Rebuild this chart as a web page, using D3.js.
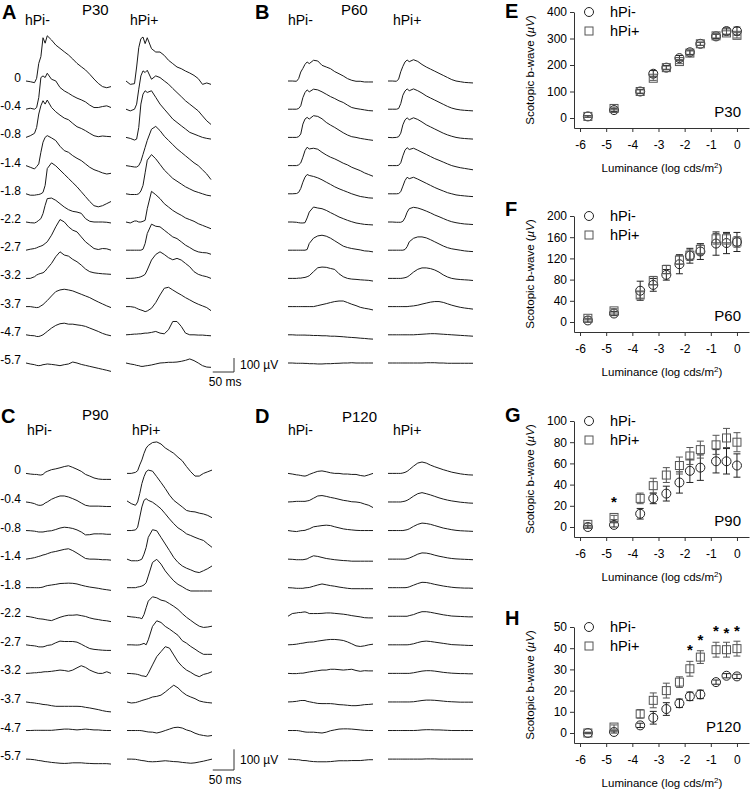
<!DOCTYPE html>
<html lang="en">
<head>
<meta charset="utf-8">
<title>ERG hPi</title>
<script src="https://d3js.org/d3.v7.min.js"></script>
<style>
body { margin:0; background:#fff; }
svg { font-family: "Liberation Sans", Arial, sans-serif; }
.trace { fill:none; stroke:#1a1a1a; stroke-width:1; stroke-linejoin:round; }
.letter { font-size:20px; font-weight:bold; }
.age { font-size:15px; }
.grp { font-size:14px; }
.lvl { font-size:12px; text-anchor:end; }
.bar { stroke:#333; stroke-width:1; fill:none; }
.axis text { font-size:12px; font-family:"Liberation Sans", Arial, sans-serif; fill:#000; }
.axis path, .axis line { stroke:#333; }
.atitle { font-size:11.5px; }
</style>
</head>
<body>
<svg id="fig" width="750" height="790"></svg>
<script>
// sample times (ms) of each trace
var T = [0,10,20,25,30,35,40,45,50,60,70,80,90,100,110,120,130,140,150,160,170,180,190,200];
var levels = ["0","-0.4","-0.8","-1.4","-1.8","-2.2","-2.7","-3.2","-3.7","-4.7","-5.7"];

// traces, uV, one row per flash level
var p30Minus = [
 [0,-5,-12,19,126,174,309,270,323,293,257,233,209,186,157,126,102,79,48,14,-17,-40,-48,-40],
 [0,7,0,12,83,226,238,226,257,214,202,155,131,114,95,79,67,52,29,12,12,19,24,12],
 [0,12,29,71,167,226,262,238,267,214,183,159,138,126,100,76,64,48,29,12,5,10,7,5],
 [0,-12,-24,-7,12,95,167,202,214,198,179,138,107,95,71,52,36,12,-12,-29,-40,-52,-60,-55],
 [0,-10,-10,-7,-5,0,10,60,180,221,200,170,140,110,80,50,15,-20,-55,-85,-93,-85,-70,-55],
 [0,-5,-7,0,12,24,60,119,167,171,155,131,107,88,76,71,62,24,5,0,0,0,-2,-7],
 [0,7,12,17,24,29,36,48,60,107,167,219,202,167,143,131,95,60,36,12,5,12,10,0],
 [0,0,12,24,31,36,40,52,71,107,155,190,167,159,136,119,95,67,48,40,36,33,31,29],
 [0,0,-5,-7,-5,5,14,29,43,76,107,119,124,119,112,100,88,76,64,48,33,19,5,-7],
 [0,-5,-7,-12,-12,-7,0,12,24,48,67,79,83,76,76,71,67,60,48,36,24,10,0,-7],
 [0,-7,-12,-17,-19,-17,-12,-10,-7,-10,-14,-19,-12,-7,7,0,-10,-17,-24,-31,-38,-45,-52,-60]
];
var p30Plus = [
 [0,-24,-19,100,238,302,314,267,309,231,207,207,183,148,124,100,88,71,57,40,17,-24,-14,-24],
 [0,-12,0,36,143,238,274,262,278,214,238,226,202,179,148,119,90,60,36,12,-12,-48,-83,-109],
 [0,-7,-19,-12,71,238,309,333,321,333,286,238,202,167,131,107,83,60,36,24,12,0,-7,-12],
 [0,-5,-10,-10,0,30,80,130,180,260,280,250,210,180,150,120,95,70,45,20,0,-30,-60,-100],
 [0,-5,-5,-5,0,20,60,150,240,280,250,210,170,140,110,90,70,50,35,20,10,0,-10,-15],
 [0,-7,7,7,0,0,5,12,95,219,195,167,131,107,83,64,48,29,17,5,-12,-24,-36,-48],
 [0,0,0,0,0,0,7,48,119,186,171,167,143,119,95,83,60,36,19,0,-12,-17,-19,-29],
 [0,0,2,5,7,12,19,29,60,131,171,190,171,148,133,143,131,107,83,48,29,19,12,0],
 [0,0,-5,-12,-19,-24,-29,-36,-31,-12,29,83,131,138,119,100,83,64,48,31,17,5,-7,-29],
 [0,2,5,5,7,7,10,12,12,17,24,12,7,36,95,95,60,12,0,0,-2,-2,-5,-7],
 [0,-7,-12,-17,-19,-24,-24,-21,-19,-14,-7,0,2,5,5,7,12,19,29,17,0,-19,-29,-31]
];
var p60Minus = [
 [0,0,-2,17,64,90,119,136,124,148,143,112,100,88,67,52,36,17,5,-2,-2,-7,-7,-7],
 [0,0,0,5,24,83,119,138,124,143,138,124,107,90,76,60,48,29,12,5,0,-5,-10,-12],
 [0,0,0,5,24,95,131,143,131,155,150,133,107,88,71,52,33,17,5,0,-7,-12,-17,-21],
 [0,0,0,5,19,60,107,131,119,124,117,95,76,60,48,33,17,5,-12,-24,-36,-52,-64,-76],
 [0,0,2,10,38,83,119,138,131,124,114,100,83,67,50,36,24,12,0,-10,-19,-24,-29,-31],
 [0,0,-2,-5,-7,-7,-5,29,71,107,100,95,83,67,52,36,24,12,2,-7,-12,-17,-19,-21],
 [0,0,0,0,0,0,0,5,48,86,102,107,100,86,67,48,29,19,12,7,2,-5,-7,-12],
 [0,0,0,2,2,5,7,12,19,48,76,81,79,71,64,33,12,0,-5,-7,-10,-12,-14,-19],
 [0,0,0,0,0,0,0,0,0,0,7,14,21,29,36,40,40,29,17,7,-5,-12,-17,-24],
 [0,0,-2,-2,-2,-2,-2,-3,-3,-5,-5,-7,-7,-10,-10,-12,-14,-17,-19,-21,-24,-26,-29,-31],
 [0,0,-2,-2,-2,-2,-3,-3,-5,-5,-7,-7,-5,-5,-3,-2,0,0,2,0,0,0,0,0]
];
var p60Plus = [
 [0,0,-2,14,66,105,136,150,138,152,140,118,100,85,70,55,40,25,10,0,-5,-10,-12,-14],
 [0,0,0,5,40,100,130,145,132,145,132,115,95,80,65,50,35,20,8,0,-5,-8,-10,-12],
 [0,-2,0,5,30,90,125,140,126,140,128,110,90,75,60,45,30,18,8,0,-5,-8,-10,-12],
 [0,0,0,2,20,70,110,128,115,124,110,95,80,65,50,38,25,12,0,-8,-15,-20,-25,-30],
 [0,0,0,2,15,55,95,118,108,118,105,90,75,60,45,32,20,8,0,-8,-12,-15,-18,-20],
 [0,0,-2,-2,-2,5,30,70,95,105,100,90,78,65,50,38,25,12,2,-5,-10,-14,-16,-18],
 [0,0,0,0,0,0,5,25,60,85,95,95,88,75,60,45,30,18,10,5,0,-5,-8,-10],
 [0,0,0,0,0,2,5,10,20,45,65,75,75,70,60,45,25,10,0,-5,-8,-10,-12,-15],
 [0,0,0,0,0,0,0,0,2,5,10,18,25,32,36,36,30,20,10,2,-5,-10,-14,-18],
 [0,0,0,0,0,0,0,0,0,0,2,4,6,8,8,6,4,2,0,-2,-4,-6,-8,-10],
 [0,0,0,0,0,0,0,0,0,0,0,0,2,2,2,0,0,-2,-2,-2,-2,-2,-2,-2]
];
var p90Minus = [
 [0,-3,-5,-5,-7,-8,-5,5,10,18,22,27,33,37,29,20,10,-5,-13,-22,-27,-29,-29,-29],
 [0,-3,-8,-13,-16,-16,-13,-5,0,13,22,29,29,24,16,7,-5,-16,-20,-20,-20,-21,-22,-22],
 [0,-1,-3,-5,-7,-7,-7,-5,-3,-1,5,12,16,14,10,3,-7,-21,-20,-16,-16,-16,-18,-18],
 [0,3,7,10,13,16,20,22,26,33,37,42,47,50,41,29,16,3,0,0,-1,-3,-3,-5],
 [0,0,0,0,0,1,3,7,10,13,16,20,21,22,21,18,12,7,3,0,-3,-7,-10,-13],
 [0,-3,-7,-10,-12,-13,-14,-16,-18,-21,-13,-5,1,5,5,7,3,-1,-8,-13,-16,-20,-22,-26],
 [0,-3,-5,-7,-10,-10,-10,-7,-3,0,10,18,16,16,16,13,3,-8,-18,-22,-24,-26,-27,-27],
 [0,1,3,3,5,5,7,8,8,10,13,16,14,10,16,27,37,29,16,7,0,0,8,0],
 [0,-3,-5,-7,-8,-10,-12,-13,-14,-18,-21,-21,-21,-21,-21,-21,-22,-26,-29,-33,-37,-42,-46,-48],
 [0,0,1,1,1,1,1,1,1,1,3,5,7,7,5,3,5,7,5,3,3,1,0,0],
 [0,-1,-3,-5,-7,-8,-10,-12,-13,-16,-18,-20,-21,-20,-18,-18,-18,-20,-21,-22,-22,-22,-22,-24]
];
var p90Plus = [
 [0,0,5,13,41,65,97,122,135,149,152,142,123,110,97,78,61,33,8,-13,-13,0,8,16],
 [5,-8,-16,0,41,89,122,146,154,149,122,94,65,33,8,-8,-24,-41,-46,-48,-54,-58,-65,-76],
 [0,0,3,16,65,114,146,154,146,137,122,105,81,56,33,13,0,-16,-24,-33,-41,-48,-65,-81],
 [0,-8,-8,-8,-5,0,24,56,105,142,137,105,73,41,8,-16,-33,-44,-52,-61,-65,-56,-46,-33],
 [0,0,0,3,5,8,13,24,56,122,137,114,81,56,33,16,5,-8,-16,-16,-16,-16,-16,-16],
 [0,-3,-5,-7,-8,-12,8,41,73,94,89,78,73,61,48,33,13,-5,-20,-35,-48,-54,-52,-48],
 [0,0,-1,-1,0,3,7,0,24,89,116,108,89,76,61,46,20,8,-8,-21,-35,-46,-46,-46],
 [0,-1,-3,-5,-8,-12,-13,-16,0,41,81,105,129,122,89,56,33,16,5,-8,-16,-5,0,8],
 [0,-5,-3,0,3,7,10,13,16,24,27,33,48,65,81,68,48,33,24,16,5,0,-3,-5],
 [0,0,0,0,0,-1,-3,-5,-7,-8,-12,-7,0,7,14,16,12,3,-3,-13,-20,-24,-27,-24],
 [0,0,-1,-3,-5,-7,-8,-10,-12,-13,-12,-10,-8,-10,-12,-13,-16,-18,-20,-18,-14,-10,-5,0]
];
var p120Minus = [
 [0,-3,-7,-8,-10,-12,-13,-10,-5,3,10,12,8,3,0,0,-3,-3,-5,-5,-10,-13,-7,0],
 [0,1,3,3,3,3,3,5,7,18,29,31,27,22,18,13,8,5,1,0,-3,-10,-16,-27],
 [0,-3,-5,-3,-1,0,1,5,8,18,21,24,26,24,18,13,8,5,3,1,0,0,0,0],
 [0,-1,-3,-3,-3,-3,-1,1,7,16,13,8,3,0,-3,-5,-7,-8,-10,-10,-10,-10,-10,-10],
 [0,-1,-3,-3,-3,-3,-1,0,1,7,13,18,14,10,7,3,0,-3,-5,-5,-5,-5,-5,-5],
 [0,13,16,18,18,20,21,18,13,13,13,14,16,16,14,12,10,7,3,0,-3,-7,-8,-8],
 [0,1,3,5,7,8,10,12,13,14,18,21,24,26,26,24,21,14,5,-5,-8,-5,0,3],
 [0,-1,-1,0,1,1,3,5,7,10,13,16,16,20,20,18,16,18,20,14,10,13,12,12],
 [0,1,3,5,7,7,7,3,1,-3,-7,-8,-8,-8,-10,-13,-14,-16,-18,-18,-16,-13,-12,-10],
 [0,0,0,-1,-3,-5,-7,-8,-8,-8,-10,-12,-8,-1,3,7,8,8,7,5,3,1,0,0],
 [0,-1,-3,-3,-5,-7,-7,-8,-10,-12,-13,-13,-13,-12,-10,-8,-8,-8,-7,-7,-7,-5,-3,-3]
];
var p120Plus = [
 [0,0,0,0,0,2,5,10,18,35,50,55,50,40,32,25,18,12,6,2,-2,-5,-7,-8],
 [0,0,0,0,0,2,4,8,14,28,40,45,40,34,27,20,14,9,5,2,-1,-3,-5,-6],
 [0,0,0,0,0,0,2,4,8,20,30,36,34,30,24,18,12,8,4,1,-1,-2,-3,-4],
 [0,0,0,0,0,0,0,2,5,14,24,30,29,25,19,14,10,6,3,1,0,-1,-2,-3],
 [0,0,0,0,0,0,0,1,4,12,20,26,25,21,16,12,8,5,2,0,-1,-2,-2,-3],
 [0,0,0,0,0,0,0,0,3,8,16,22,22,19,15,11,7,4,1,0,-1,-2,-3,-3],
 [0,0,0,0,0,0,0,0,1,5,11,16,18,16,13,10,7,4,1,0,-1,-2,-3,-3],
 [0,0,0,0,0,0,0,0,0,3,7,11,13,13,11,8,5,3,1,0,-1,-1,-2,-2],
 [0,0,0,0,0,0,0,0,0,1,4,7,9,9,8,6,4,2,1,0,-1,-1,-1,-1],
 [0,0,0,0,0,0,0,0,0,0,1,3,4,4,3,3,2,1,0,0,0,0,0,0],
 [0,0,0,0,0,0,0,0,0,0,0,0,1,1,1,0,0,0,0,0,0,0,0,0]
];

// b-wave amplitude vs luminance (mean, error)
var lum = [-5.7,-4.7,-3.7,-3.2,-2.7,-2.2,-1.8,-1.4,-0.8,-0.4,0];
var p30MinusMean = [6,30,100,167,190,226,248,280,308,328,328];
var p30MinusErr  = [3,5,8,12,8,10,8,6,8,12,15];
var p30PlusMean  = [6,36,100,150,190,213,245,280,310,321,312];
var p30PlusErr   = [3,5,6,8,6,8,8,6,8,8,10];
var p60MinusMean = [3,16,59,70,89,109,125,133,148,149,151];
var p60MinusErr  = [3,4,18,12,10,18,14,15,22,20,18];
var p60PlusMean  = [7,21,51,78,99,117,126,137,157,157,151];
var p60PlusErr   = [3,4,6,8,8,8,10,10,10,10,10];
var p90MinusMean = [0,2,12.5,27,31.5,42,53,56,62,62,58];
var p90MinusErr  = [1,2,5,5,7,10,11,12,11,12,11];
var p90PlusMean  = [2.5,9,27,39,49,58,67,73,77.5,84,80];
var p90PlusErr   = [1,2,5,7,7,8,8,8,9,9,9];
var p120MinusMean = [0,0.5,3.6,7.2,11.3,14,17.3,18.2,24,27,26.7];
var p120MinusErr  = [0.3,0.5,1,3,3,2,2,2,1,1,1];
var p120PlusMean  = [0,2.8,9,15.4,20,24,30.3,35.8,39.3,39.3,39.8];
var p120PlusErr   = [0.3,1,2,3.5,3.5,2.5,3.5,3,3.5,3.5,3.5];
var starsP90  = [[-4.7,26]];
var starsP120 = [[-1.8,40.5],[-1.4,45.5],[-0.8,49.5],[-0.4,48.5],[0,49.5]];

var svg = d3.select("#fig");

// ---------- trace panels ----------
var x = d3.scaleLinear().domain([0,200]).range([0,85]);

var tracePanels = [
  {letter:"A", age:"P30", lx:2, ly:19, ax:82, ay:15, hx:[25,130], hy:25, cols:[26,126], sets:[p30Minus,p30Plus], y0:81, step:28.2, uv:14, labels:true},
  {letter:"B", age:"P60", lx:255, ly:19, ax:341, ay:15, hx:[288,393], hy:25, cols:[288,388], sets:[p60Minus,p60Plus], y0:81, step:28.2, uv:14, labels:false, bar:[234,372]},
  {letter:"C", age:"P90", lx:1, ly:423, ax:82, ay:420, hx:[27,132], hy:435, cols:[26,127], sets:[p90Minus,p90Plus], y0:473.4, step:28.57, uv:20.7, labels:true},
  {letter:"D", age:"P120", lx:255, ly:423, ax:342, ay:422, hx:[288,393], hy:435, cols:[288,388], sets:[p120Minus,p120Plus], y0:473.4, step:28.57, uv:20.7, labels:false, bar:[234,770]}
];

tracePanels.forEach(function(p) {
  var y = d3.scaleLinear().domain([0,100]).range([0,-p.uv]);
  var line = d3.line()
    .x(function(d,i) { return x(T[i]); })
    .y(function(d) { return y(d); });

  svg.append("text").attr("class","letter").attr("x",p.lx).attr("y",p.ly).text(p.letter);
  svg.append("text").attr("class","age").attr("x",p.ax).attr("y",p.ay).text(p.age);
  svg.append("text").attr("class","grp").attr("x",p.hx[0]).attr("y",p.hy).text("hPi-");
  svg.append("text").attr("class","grp").attr("x",p.hx[1]).attr("y",p.hy).text("hPi+");

  p.sets.forEach(function(set, c) {
    svg.append("g")
      .attr("transform","translate(" + p.cols[c] + ",0)")
      .selectAll("path")
      .data(set)
    .enter().append("path")
      .attr("class","trace")
      .attr("transform", function(d,i) { return "translate(0," + (p.y0 + i*p.step) + ")"; })
      .attr("d", line);
  });

  if (p.labels) {
    svg.selectAll(null)
      .data(levels)
    .enter().append("text")
      .attr("class","lvl")
      .attr("x",21)
      .attr("y", function(d,i) { return p.y0 + i*p.step + 1; })
      .text(function(d) { return d; });
  }

  if (p.bar) {
    var bx = p.bar[0], by = p.bar[1];
    svg.append("path").attr("class","bar")
      .attr("d","M" + (bx - x(50)) + "," + by + "H" + bx + "V" + (by + y(100)));
    svg.append("text").attr("x",bx+6).attr("y",by + y(100)/2 + 4).style("font-size","12px").text("100 \u00b5V");
    svg.append("text").attr("x",bx - x(50) - 4).attr("y",by+14).style("font-size","12px").text("50 ms");
  }
});

// ---------- b-wave plots ----------
var xs = d3.scaleLinear().domain([-6.23,0.46]).range([574,749]);

var scatterPanels = [
  {letter:"E", age:"P30",  max:400, step:100, top:12,  ly:18,  minus:p30MinusMean,  minusErr:p30MinusErr,  plus:p30PlusMean,  plusErr:p30PlusErr,  stars:[]},
  {letter:"F", age:"P60",  max:200, step:40,  top:216, ly:216, minus:p60MinusMean,  minusErr:p60MinusErr,  plus:p60PlusMean,  plusErr:p60PlusErr,  stars:[]},
  {letter:"G", age:"P90",  max:100, step:20,  top:421, ly:422, minus:p90MinusMean,  minusErr:p90MinusErr,  plus:p90PlusMean,  plusErr:p90PlusErr,  stars:starsP90},
  {letter:"H", age:"P120", max:50,  step:10,  top:627, ly:625, minus:p120MinusMean, minusErr:p120MinusErr, plus:p120PlusMean, plusErr:p120PlusErr, stars:starsP120}
];

scatterPanels.forEach(function(p) {
  var ys = d3.scaleLinear().domain([-p.max*10/106, p.max]).range([p.top+116, p.top]);
  var g = svg.append("g");

  g.append("g").attr("class","axis")
    .attr("transform","translate(0," + (p.top+116) + ")")
    .call(d3.axisBottom(xs).tickValues(d3.range(-6,1)).tickSize(4).tickSizeOuter(0).tickPadding(8)
      .tickFormat(function(d) { return String(d); }));
  g.append("g").attr("class","axis")
    .attr("transform","translate(574,0)")
    .call(d3.axisLeft(ys).tickValues(d3.range(0,p.max+1,p.step)).tickSize(4).tickSizeOuter(0).tickPadding(3)
      .tickFormat(function(d) { return String(d); }));

  g.append("text").attr("class","letter").attr("x",505).attr("y",p.ly).text(p.letter);
  g.append("text").attr("x",741).attr("y",p.top+105).attr("text-anchor","end").style("font-size","15px").text(p.age);

  var xt = g.append("text").attr("class","atitle").attr("x",662).attr("y",p.top+160).attr("text-anchor","middle");
  xt.append("tspan").text("Luminance (log cds/m");
  xt.append("tspan").attr("dy",-4).style("font-size","8px").text("2");
  xt.append("tspan").attr("dy",4).text(")");

  var yt = g.append("text").attr("class","atitle").attr("text-anchor","middle")
    .attr("transform","translate(534," + (p.top+58) + ") rotate(-90)");
  yt.append("tspan").text("Scotopic b-wave (");
  yt.append("tspan").style("font-style","italic").text("\u00b5V");
  yt.append("tspan").text(")");

  // legend
  g.append("circle").attr("cx",589).attr("cy",p.top).attr("r",4.5).attr("fill","none").attr("stroke","#222");
  g.append("rect").attr("x",585).attr("y",p.top+15).attr("width",8).attr("height",8).attr("fill","none").attr("stroke","#555");
  g.append("text").attr("x",610).attr("y",p.top+5).style("font-size","14.5px").text("hPi-");
  g.append("text").attr("x",610).attr("y",p.top+24).style("font-size","14.5px").text("hPi+");

  [{v:p.minus, e:p.minusErr, col:"#222", shape:"c"}, {v:p.plus, e:p.plusErr, col:"#555", shape:"s"}].forEach(function(s) {
    var sg = g.append("g").attr("stroke", s.col).attr("fill","none");
    var pts = sg.selectAll("g").data(s.v).enter().append("g");
    pts.append("path").attr("d", function(d,i) {
      var cx = xs(lum[i]), lo = ys(d - s.e[i]), hi = ys(d + s.e[i]);
      return "M" + cx + "," + lo + "V" + hi + "M" + (cx-3.5) + "," + hi + "H" + (cx+3.5) + "M" + (cx-3.5) + "," + lo + "H" + (cx+3.5);
    });
    if (s.shape === "c") {
      pts.append("circle").attr("cx", function(d,i) { return xs(lum[i]); }).attr("cy", function(d) { return ys(d); }).attr("r",4.5);
    } else {
      pts.append("rect").attr("x", function(d,i) { return xs(lum[i]) - 4; }).attr("y", function(d) { return ys(d) - 4; })
        .attr("width",8).attr("height",8);
    }
  });

  g.selectAll(".star").data(p.stars).enter().append("text")
    .attr("class","star")
    .attr("x", function(d) { return xs(d[0]); })
    .attr("y", function(d) { return ys(d[1]) + 8; })
    .attr("text-anchor","middle")
    .style("font-size","15px").style("font-weight","bold")
    .text("*");
});
</script>
</body>
</html>
